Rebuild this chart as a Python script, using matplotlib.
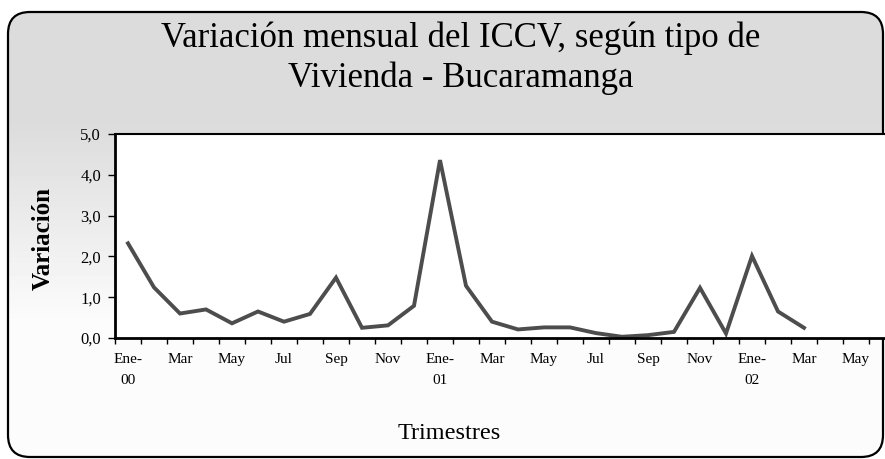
import numpy as np
import matplotlib
matplotlib.use("Agg")
import matplotlib.pyplot as plt
from matplotlib.patches import FancyBboxPatch

plt.rcParams['font.family'] = ['Liberation Serif', 'DejaVu Serif']

months = ["Ene-\n00", "Feb", "Mar", "Abr", "May", "Jun", "Jul", "Ago", "Sep", "Oct", "Nov", "Dic",
          "Ene-\n01", "Feb", "Mar", "Abr", "May", "Jun", "Jul", "Ago", "Sep", "Oct", "Nov", "Dic",
          "Ene-\n02", "Feb", "Mar", "Abr", "May", "Jun"]
values = [2.32, 1.24, 0.60, 0.70, 0.36, 0.65, 0.40, 0.59, 1.48, 0.25, 0.31, 0.79,
          4.36, 1.28, 0.40, 0.21, 0.26, 0.26, 0.12, 0.03, 0.07, 0.15, 1.23, 0.11,
          2.01, 0.65, 0.25]
yticks = [0, 1, 2, 3, 4, 5]
ytick_labels = ["0,0", "1,0", "2,0", "3,0", "4,0", "5,0"]

W, H = 885, 459
fig = plt.figure(figsize=(W / 100, H / 100), dpi=100)
fig.patch.set_facecolor("white")

# background gradient clipped to rounded box
bg = fig.add_axes([0, 0, 1, 1], zorder=-5)
bg.set_xlim(0, W)
bg.set_ylim(0, H)
bg.axis("off")
rows = np.arange(H)  # row 0 = top in image coords
t = np.clip((rows - 120) / 200.0, 0, 1)
col = 0.86 + (0.985 - 0.86) * t
grad = np.repeat(col[:, None], 2, axis=1)
box = FancyBboxPatch((8, 2), 875, 445, boxstyle="round,pad=0,rounding_size=22",
                     facecolor="none", edgecolor="black", linewidth=1.6,
                     transform=bg.transData, zorder=3)
bg.add_patch(box)
im = bg.imshow(grad, cmap="gray", vmin=0, vmax=1, extent=[0, W, 0, H],
               aspect="auto", origin="upper", zorder=1)
im.set_clip_path(box)

# plot area
left, right, top, bottom = 115, 895, 134, 338
ax = fig.add_axes([left / W, (H - bottom) / H, (right - left) / W, (bottom - top) / H])
ax.set_facecolor("white")
x = np.arange(len(values))
ax.plot(x, values, color="#4d4d4d", linewidth=2.8, solid_joinstyle="miter")
ax.set_xlim(-0.5, len(months) - 0.5)
ax.set_ylim(0, 5)
ax.set_yticks(yticks)
ax.set_yticklabels(ytick_labels, fontsize=12)
ax.set_xticks(np.arange(len(months) + 1) - 0.5)
ax.set_xticklabels([])
ax.set_xticks(np.arange(0, len(months), 2), minor=True)
ax.set_xticklabels([months[i] for i in range(0, len(months), 2)], minor=True,
                   fontsize=11, linespacing=1.75)
ax.tick_params(axis="x", which="major", direction="out", length=4, width=1, color="black")
ax.tick_params(axis="x", which="minor", length=0, pad=11)
ax.tick_params(axis="y", direction="out", length=5, width=1, pad=5)
for s in ["left", "bottom"]:
    ax.spines[s].set_linewidth(2)
ax.spines["top"].set_linewidth(1.5)
ax.spines["right"].set_visible(False)

fig.text(461 / W, 1 - 47 / H, "Variación mensual del ICCV, según tipo de",
         ha="center", va="baseline", fontsize=25)
fig.text(461 / W, 1 - 87 / H, "Vivienda - Bucaramanga",
         ha="center", va="baseline", fontsize=25)
fig.text(43 / W, 1 - 238 / H, "Variación", rotation=90, ha="center", va="center",
         fontsize=18, fontweight="bold")
fig.text(449 / W, 1 - 439 / H, "Trimestres", ha="center", va="baseline", fontsize=17.5)

fig.savefig("out.png", dpi=100)
